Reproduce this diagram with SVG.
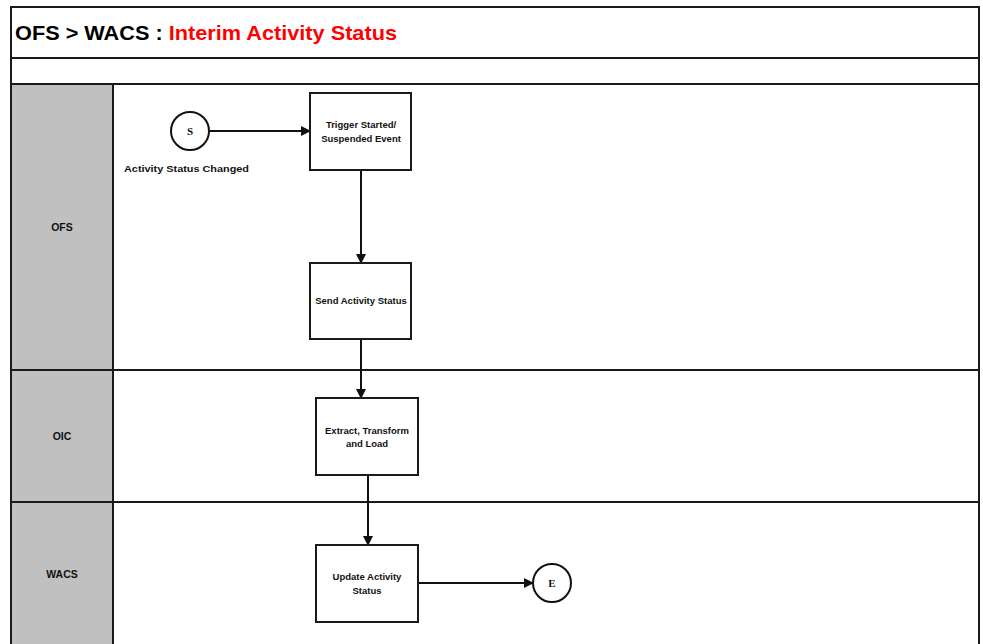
<svg xmlns="http://www.w3.org/2000/svg" width="983" height="644" viewBox="0 0 983 644">
<defs>
<style>
.frame{fill:#fff;stroke:#1a1a1a;stroke-width:2}
.hdr{fill:#c0c0c0;stroke:#1a1a1a;stroke-width:2}
.box{fill:#fff;stroke:#1a1a1a;stroke-width:2}
.lbl{font-family:"Liberation Sans",Arial,sans-serif;font-weight:bold;font-size:9.5px;fill:#111;text-anchor:middle}
.lane{font-family:"Liberation Sans",Arial,sans-serif;font-weight:bold;font-size:10.5px;fill:#111;text-anchor:middle}
.ev{font-family:"Liberation Serif","Times New Roman",serif;font-weight:bold;font-size:11px;fill:#111;text-anchor:middle}
.con{stroke:#111;stroke-width:2;fill:none;marker-end:url(#ah)}
</style>
<marker id="ah" markerWidth="10" markerHeight="10" refX="9" refY="5" orient="auto" markerUnits="userSpaceOnUse">
<path d="M0,0 L10,5 L0,10 z" fill="#111"/>
</marker>
</defs>
<rect width="983" height="644" fill="#fff"/>
<g id="frame">
<rect class="frame" x="11" y="7" width="968" height="660"/>
<line x1="11" y1="58" x2="979" y2="58" stroke="#1a1a1a" stroke-width="2"/>
<line x1="11" y1="84" x2="979" y2="84" stroke="#1a1a1a" stroke-width="2"/>
<text x="15" y="40" font-family="Liberation Sans,Arial,sans-serif" font-weight="bold" font-size="21" textLength="382" lengthAdjust="spacingAndGlyphs"><tspan fill="#000">OFS &gt; WACS : </tspan><tspan fill="#ff0000">Interim Activity Status</tspan></text>
</g>
<g id="lane-ofs">
<rect class="hdr" x="11" y="84" width="102" height="286"/>
<line x1="113" y1="370" x2="979" y2="370" stroke="#1a1a1a" stroke-width="2"/>
<text class="lane" x="62" y="231">OFS</text>
</g>
<g id="lane-oic">
<rect class="hdr" x="11" y="370" width="102" height="132"/>
<line x1="113" y1="502" x2="979" y2="502" stroke="#1a1a1a" stroke-width="2"/>
<text class="lane" x="62" y="440">OIC</text>
</g>
<g id="lane-wacs">
<rect class="hdr" x="11" y="502" width="102" height="160"/>
<text class="lane" x="62" y="578">WACS</text>
</g>
<g id="connectors">
<line class="con" x1="209" y1="131" x2="310" y2="131"/>
<line class="con" x1="361" y1="170" x2="361" y2="263"/>
<line class="con" x1="361" y1="339" x2="361" y2="398"/>
<line class="con" x1="368" y1="475" x2="368" y2="545"/>
<line class="con" x1="418" y1="583" x2="533" y2="583"/>
</g>
<g id="start">
<circle cx="190" cy="131" r="19" fill="#fff" stroke="#111" stroke-width="2"/>
<text class="ev" x="190" y="135">S</text>
<text class="lbl" x="186.5" y="172" font-size="10" textLength="125" lengthAdjust="spacingAndGlyphs">Activity Status Changed</text>
</g>
<g id="trigger">
<rect class="box" x="310" y="93" width="101" height="77"/>
<text class="lbl" x="361" y="128">Trigger Started/</text>
<text class="lbl" x="361" y="142">Suspended Event</text>
</g>
<g id="send">
<rect class="box" x="310" y="263" width="101" height="76"/>
<text class="lbl" x="361" y="304">Send Activity Status</text>
</g>
<g id="etl">
<rect class="box" x="316" y="398" width="102" height="77"/>
<text class="lbl" x="367" y="434">Extract, Transform</text>
<text class="lbl" x="367" y="447">and Load</text>
</g>
<g id="update">
<rect class="box" x="316" y="545" width="102" height="77"/>
<text class="lbl" x="367" y="580">Update Activity</text>
<text class="lbl" x="367" y="594">Status</text>
</g>
<g id="end">
<circle cx="552" cy="583" r="19" fill="#fff" stroke="#111" stroke-width="2"/>
<text class="ev" x="552" y="587">E</text>
</g>
</svg>
